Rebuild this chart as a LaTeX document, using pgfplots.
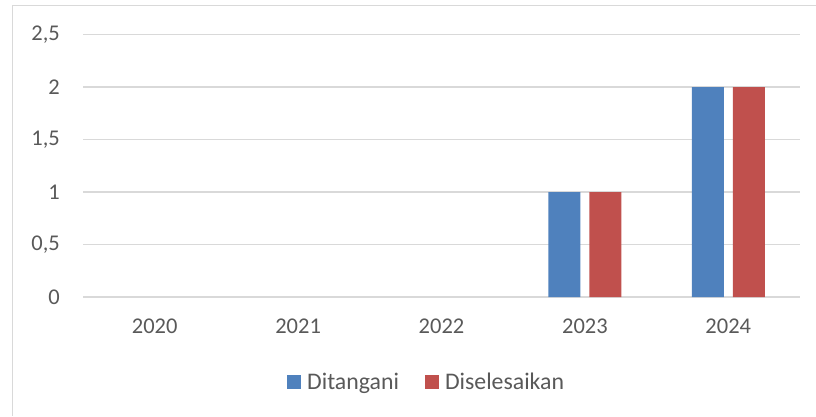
\documentclass[border=0pt]{standalone}
\usepackage{pgfplots}
\pgfplotsset{compat=1.18}
\usepackage{fontspec}
\setmainfont{Carlito}
\definecolor{txt}{HTML}{595959}
\definecolor{grd}{HTML}{D9D9D9}
\definecolor{cblue}{HTML}{4F81BD}
\definecolor{cred}{HTML}{C0504D}
\begin{document}
\begin{tikzpicture}[x=1pt,y=1pt]
\useasboundingbox (0,0) rectangle (816,416);
\draw[grd, line width=1.3pt] (12.7,0) -- (12.7,410.3) -- (816,410.3);
\begin{axis}[
  at={(83pt,119pt)}, anchor=south west,
  scale only axis, width=717pt, height=262.5pt,
  ymin=0, ymax=2.5, ytick={0,0.5,1,1.5,2,2.5},
  xmin=-0.5, xmax=4.5, xtick={0,1,2,3,4},
  xticklabels={2020,2021,2022,2023,2024},
  ybar=9pt, bar width=32pt,
  ymajorgrids, grid style={grd, line width=1.3pt},
  axis line style={draw=none}, major tick length=0pt,
  /pgf/number format/assume math mode=true,
  /pgf/number format/use comma, /pgf/number format/fixed,
  tick label style={font=\fontsize{22.5}{27}\selectfont, text=txt},
  yticklabel style={anchor=east, inner sep=0pt, xshift=-23pt},
  xticklabel style={anchor=north, inner sep=0pt, yshift=-22pt},
  unbounded coords=discard,
  y filter/.expression={y==0 ? nan : y},
  legend columns=2,
  legend style={at={(0.2845,-0.324)}, anchor=west, draw=none, inner sep=0pt,
    font=\fontsize{23.8}{28}\selectfont, text=txt,
    nodes={inner sep=0pt},
    /tikz/every odd column/.style={column sep=6.3pt},
    /tikz/every even column/.style={column sep=26pt}},
]
\addplot[fill=cblue, draw=none, legend image code/.code={\fill[cblue] (0pt,-6.85pt) rectangle (13.7pt,6.85pt);}]
  coordinates {(0,0) (1,0) (2,0) (3,1) (4,2)};
\addplot[fill=cred, draw=none, legend image code/.code={\fill[cred] (0pt,-6.85pt) rectangle (13.7pt,6.85pt);}]
  coordinates {(0,0) (1,0) (2,0) (3,1) (4,2)};
\legend{Ditangani, Diselesaikan}
\end{axis}
\end{tikzpicture}
\end{document}
